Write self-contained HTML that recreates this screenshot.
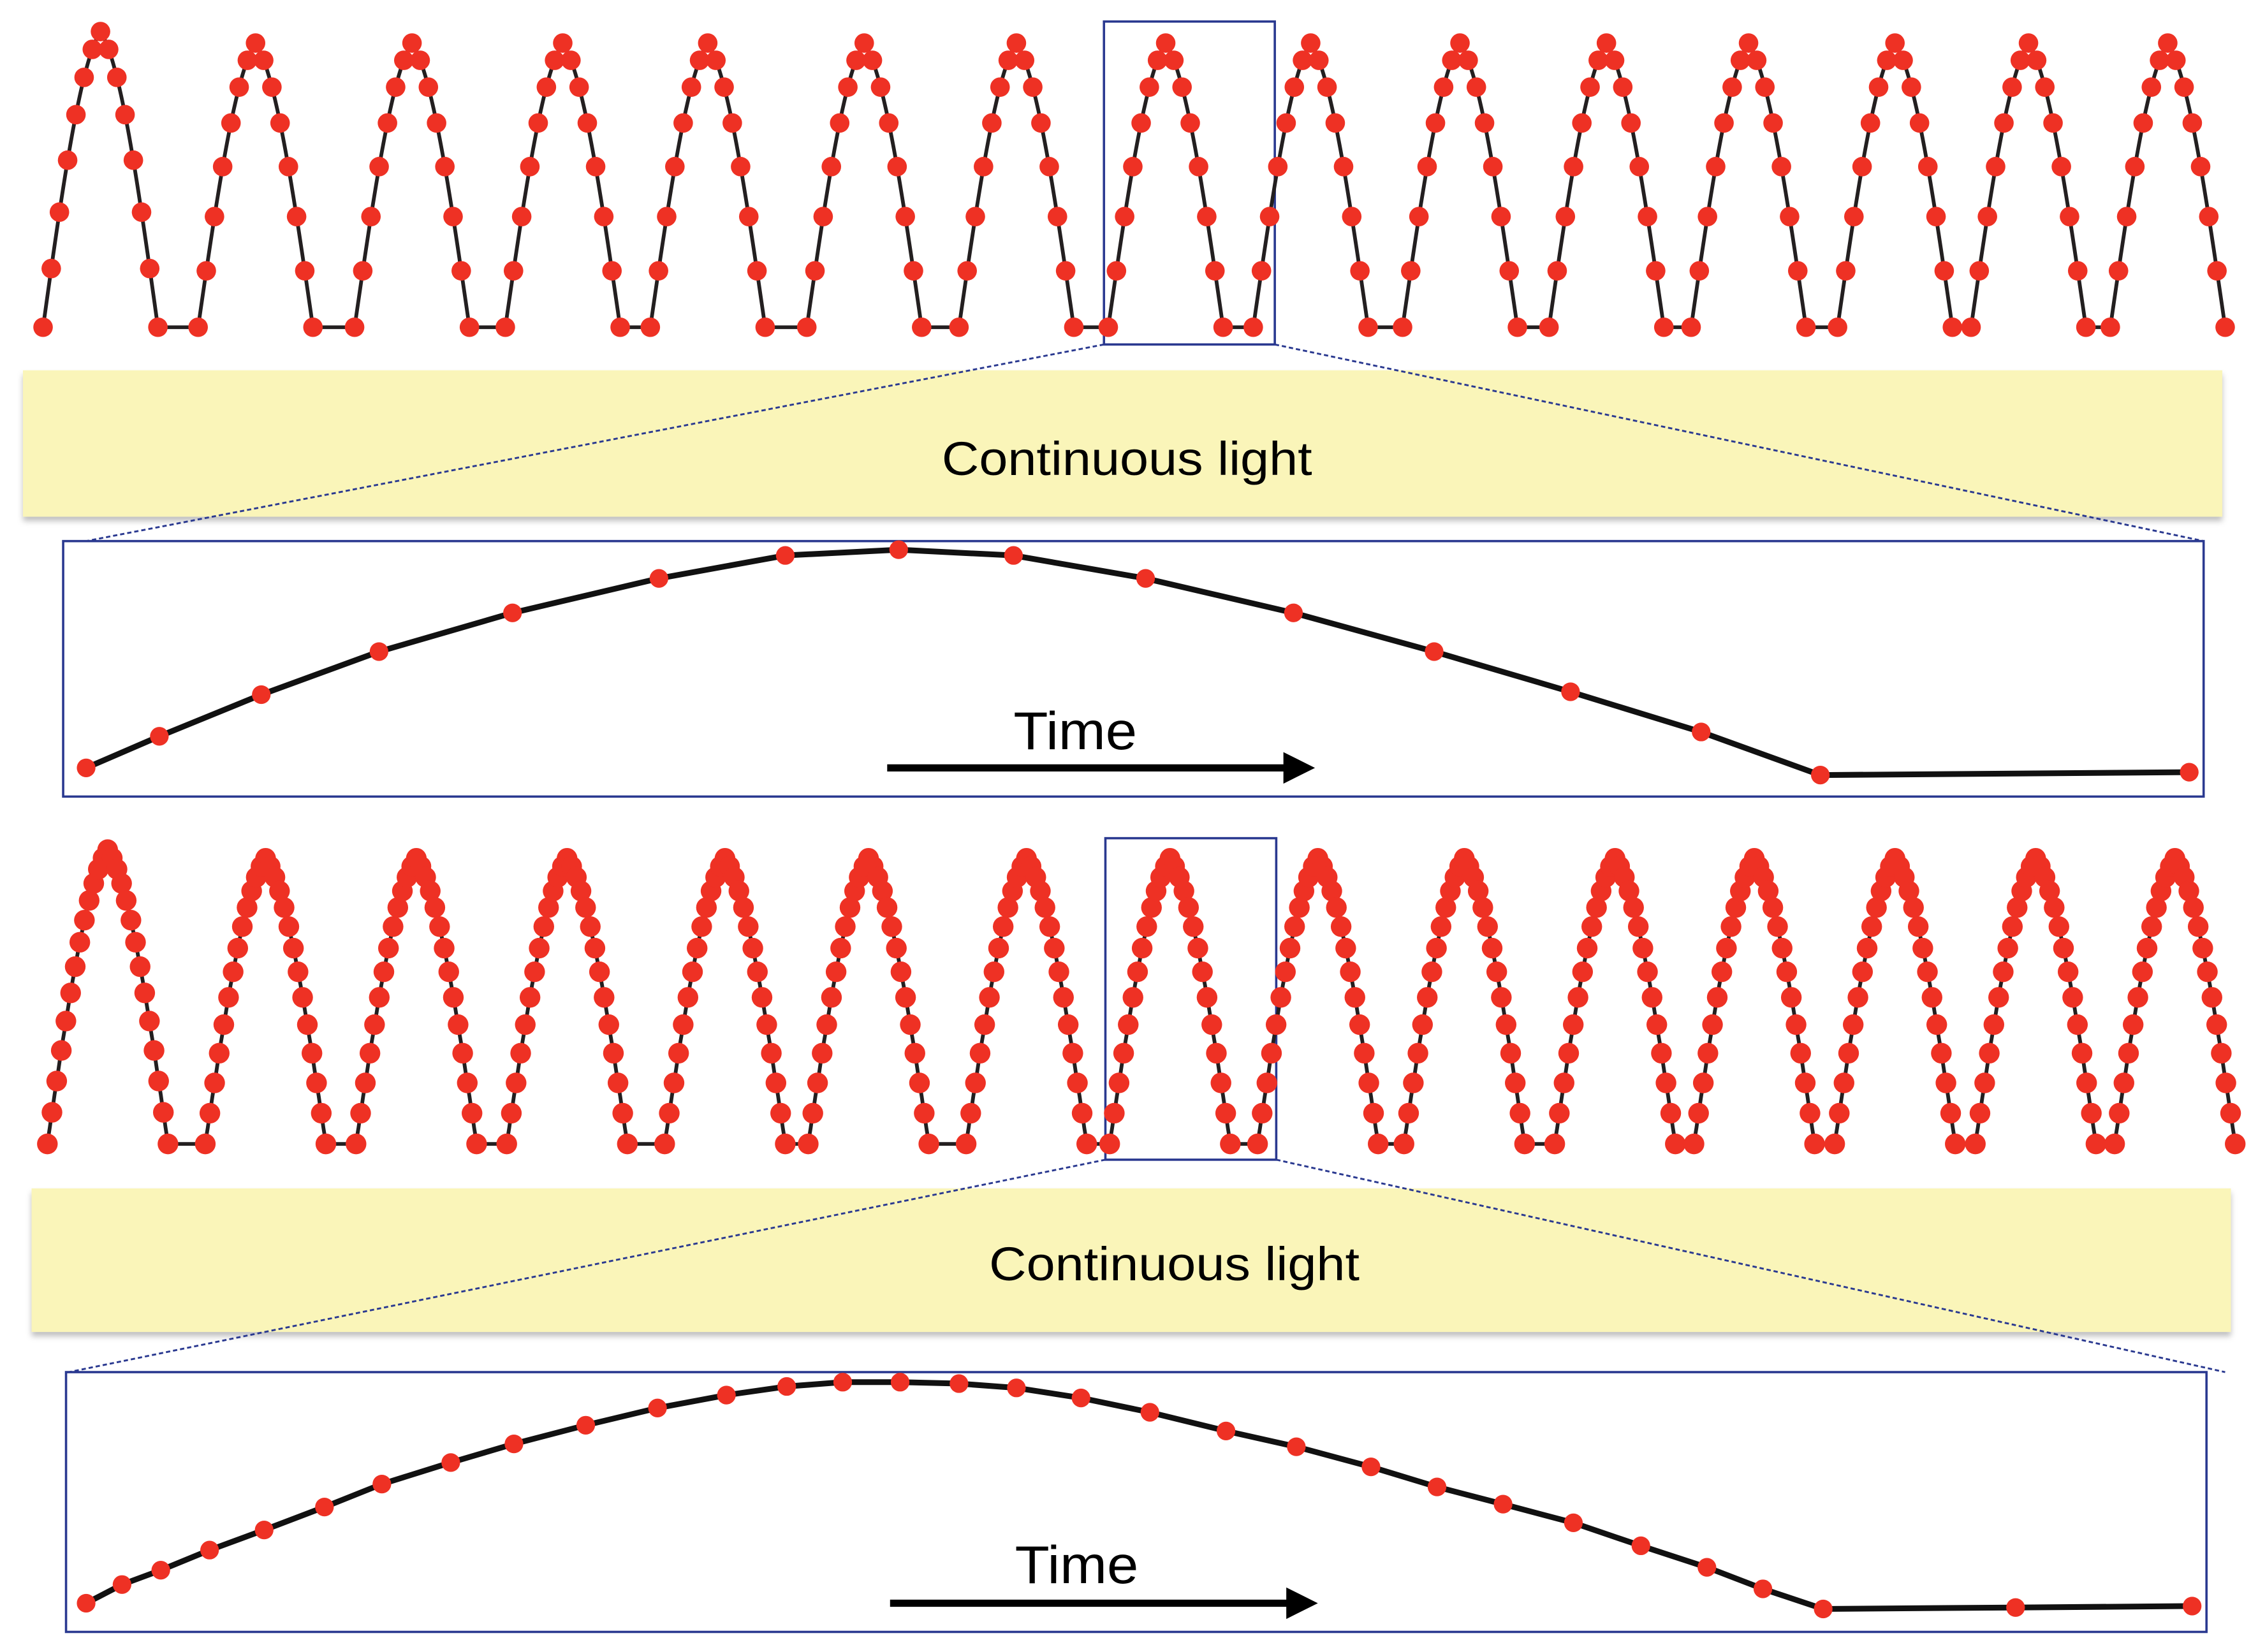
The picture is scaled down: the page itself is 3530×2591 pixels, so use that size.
<!DOCTYPE html>
<html><head><meta charset="utf-8"><style>
html,body{margin:0;padding:0;background:#fff;}
svg{display:block;}
text{font-family:"Liberation Sans",sans-serif;fill:#000;}
</style></head><body>
<svg id="s" xmlns="http://www.w3.org/2000/svg" width="3530" height="2591" viewBox="0 0 1568 1151" preserveAspectRatio="none">
<defs>
<filter id="sh" x="-20%" y="-20%" width="140%" height="160%"><feDropShadow dx="0" dy="3" stdDeviation="2" flood-color="#000" flood-opacity="0.25"/></filter>
</defs>
<rect x="16" y="258" width="1532" height="102" fill="#faf5b9" filter="url(#sh)"/>
<rect x="22" y="828" width="1532" height="100" fill="#faf5b9" filter="url(#sh)"/>
<text x="785" y="331" font-size="33" text-anchor="middle" textLength="258" lengthAdjust="spacingAndGlyphs">Continuous light</text>
<text x="818" y="892" font-size="33" text-anchor="middle" textLength="258" lengthAdjust="spacingAndGlyphs">Continuous light</text>
<g stroke="#2a3990" stroke-width="1.3" stroke-dasharray="3,2" fill="none">
<line x1="769" y1="240" x2="60" y2="377"/>
<line x1="888" y1="240" x2="1535" y2="377"/>
<line x1="770" y1="808" x2="48" y2="956"/>
<line x1="889" y1="808" x2="1550" y2="956"/>
</g>
<g stroke="#2a3990" stroke-width="1.6" fill="none">
<rect x="769" y="15" width="119" height="225"/>
<rect x="44" y="377" width="1491" height="178"/>
<rect x="770" y="584" width="119" height="224"/>
<rect x="46" y="956" width="1491" height="181"/>
</g>
<g id="waves"></g>
<text x="706" y="522" font-size="37" textLength="86" lengthAdjust="spacingAndGlyphs">Time</text>
<line x1="618" y1="535" x2="896" y2="535" stroke="#000" stroke-width="5"/>
<polygon points="894,524 916,535 894,546" fill="#000"/>
<text x="707" y="1103" font-size="37" textLength="86" lengthAdjust="spacingAndGlyphs">Time</text>
<line x1="620" y1="1117" x2="898" y2="1117" stroke="#000" stroke-width="5"/>
<polygon points="896,1106 918,1117 896,1128" fill="#000"/>
</svg>
<script>
(function(){
var NS="http://www.w3.org/2000/svg",g=document.getElementById("waves");
function poly(pts,w){var p=document.createElementNS(NS,"polyline");p.setAttribute("points",pts.map(function(a){return a[0].toFixed(1)+","+a[1].toFixed(1)}).join(" "));p.setAttribute("fill","none");p.setAttribute("stroke","#231f20");p.setAttribute("stroke-width",w);p.setAttribute("stroke-linejoin","round");g.appendChild(p);}
function dot(x,y,r){var c=document.createElementNS(NS,"circle");c.setAttribute("cx",x.toFixed(1));c.setAttribute("cy",y.toFixed(1));c.setAttribute("r",r);c.setAttribute("fill","#ee3124");g.appendChild(c);}
function shape(u){var tri=1-Math.abs(2*u-1);return 0.7*Math.sin(Math.PI*u)+0.3*tri;}
function wave(peaks,base,peakY,hw,n,r,lw){
 var line=[],dots=[];
 peaks.forEach(function(px,i){
  var py=peakY[i]!==undefined?peakY[i]:peakY.d;
  var A=base-py;
  for(var k=0;k<=100;k++){var u=k/100;line.push([px-hw+2*hw*u,base-A*shape(u)]);}
  for(var k=0;k<n;k++){var u=k/(n-1);dots.push([px-hw+2*hw*u,base-A*shape(u)]);}
 });
 poly(line,lw);
 dots.forEach(function(d){dot(d[0],d[1],r);});
}
var p1=[70,178,287,392,493,602,708,812,913,1017,1119,1218,1320,1413,1510];
var py1={d:30};py1[0]=22;
wave(p1,228,py1,40,15,6.8,2.6);
var p2=[75,185,290,395,505,605,715,815,918,1020,1125,1222,1320,1418,1515];
var py2={d:598};py2[0]=592;
wave(p2,797,py2,42,27,7.2,2.6);
var z1=[[60,535],[111,513],[182,484],[264,454],[357,427],[459,403],[547,387],[626,383],[706,387],[798,403],[901,427],[999,454],[1094,482],[1185,510],[1268,540],[1525,538]];
var z2=[[60,1117],[85,1104],[112,1094],[146,1080],[184,1066],[226,1050],[266,1034],[314,1019],[358,1006],[408,993],[458,981],[506,972],[548,966],[587,963],[627,963],[668,964],[708,967],[753,974],[801,984],[854,997],[903,1008],[955,1022],[1001,1036],[1047,1048],[1096,1061],[1143,1077],[1189,1092],[1228,1107],[1270,1121],[1404,1120],[1527,1119]];
[z1,z2].forEach(function(z){
 var p=document.createElementNS(NS,"path");
 var d="M"+z[0][0]+","+z[0][1];
 for(var i=1;i<z.length;i++){d+=" L"+z[i][0]+","+z[i][1];}
 p.setAttribute("d",d);p.setAttribute("fill","none");p.setAttribute("stroke","#111");p.setAttribute("stroke-width","4");p.setAttribute("stroke-linejoin","round");g.appendChild(p);
 z.forEach(function(a){dot(a[0],a[1],6.5);});
});
})();
</script>
</body></html>
